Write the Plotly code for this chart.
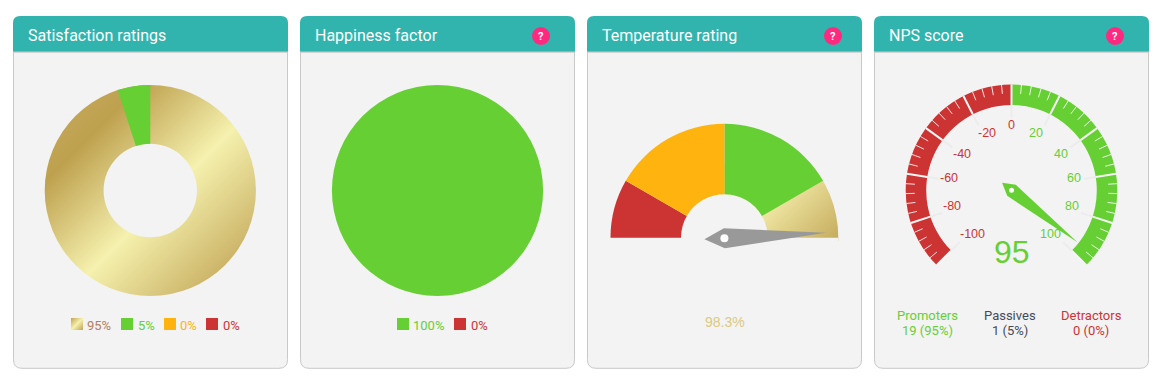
import math
import numpy as np
import plotly.graph_objects as go

W, H = 1156, 379
BG = "#f3f3f3"; GREEN = "#66cf33"; RED = "#cc3333"; ORANGE = "#ffb30f"; TEAL = "#31b4ae"; PINK = "#ff2a80"; EDGE = "#c9c9c9"
GOLD_SCALE = [[0, "#c8ae60"], [0.23, "#bea14f"], [0.55, "#f5f1ae"], [0.88, "#c9b063"], [1, "#c4aa58"]]
SWATCH_SCALE = [[0, "#c4a958"], [0.5, "#f5f1ae"], [1, "#c4a958"]]

panel_titles = ["Satisfaction ratings", "Happiness factor", "Temperature rating", "NPS score"]
panel_left = [13, 300, 587, 874]
help_icon_x = [None, 541, 833, 1115]

satisfaction_labels = ["95%", "5%", "0%", "0%"]
satisfaction_values = [95, 5, 0, 0]
happiness_labels = ["100%", "0%"]
happiness_values = [100, 0]
temperature_zone_arcs = [60, 30, 180, 30, 60]   # green, gold, hidden, red, orange
temperature_value = 98.3
nps_value = 95
nps_major_ticks = [-100, -80, -60, -40, -20, 0, 20, 40, 60, 80, 100]
nps_segments = [100, 66.67, 100]   # promoter side, hidden, detractor side
nps_groups = ["Promoters", "Passives", "Detractors"]
nps_counts = ["19 (95%)", "1 (5%)", "0 (0%)"]
# label offsets from the gauge centre, by absolute tick value
nps_label_dx = {0: 0, 20: 24.5, 40: 49.5, 60: 62.5, 80: 60, 100: 39}
nps_label_dy = {0: -65.3, 20: -57.6, 40: -36.3, 60: -12, 80: 15.4, 100: 43.4}

fig = go.Figure()
shapes, notes = [], []


def dom(cx, cy, r):
    return dict(x=[(cx - r) / W, (cx + r) / W], y=[1 - (cy + r) / H, 1 - (cy - r) / H])


def pie(cx, cy, r, values, colors, hole=0, rotation=0):
    fig.add_trace(go.Pie(values=values, marker=dict(colors=colors, line=dict(width=0)), hole=hole,
                         rotation=rotation, sort=False, direction="clockwise", textinfo="none",
                         hoverinfo="skip", showlegend=False, domain=dom(cx, cy, r)))


def gradient(x0, x1, y0, y1, s0, s1, mask=None, scale=GOLD_SCALE):
    xs = np.arange(x0, x1 + 0.5, 1.0)
    ys = np.arange(y0, y1 + 0.5, 1.0)
    gx, gy = np.meshgrid(xs, ys)
    z = (gx + gy - s0) / (s1 - s0)
    if mask is not None:
        z = np.where(mask(gx, gy), z, np.nan)
    fig.add_trace(go.Heatmap(x=xs, y=ys, z=z, zmin=0, zmax=1, colorscale=scale, showscale=False,
                             hoverinfo="skip", hoverongaps=False, xaxis="x", yaxis="y"))


def text(x, y, s, size, color, anchor="center", family="Roboto"):
    notes.append(dict(x=x, y=y, xref="x", yref="y", text=s, showarrow=False, xanchor=anchor, yanchor="middle",
                      font=dict(family=family, size=size, color=color)))


def line(x0, y0, x1, y1, color, width):
    shapes.append(dict(type="line", x0=x0, y0=y0, x1=x1, y1=y1, xref="x", yref="y",
                       line=dict(color=color, width=width), layer="above"))


def needle(cx, cy, deg, tail, half, tip, color, dot):
    # deg: clockwise from straight up
    a = math.radians(deg)
    ux, uy = math.sin(a), -math.cos(a)
    px, py = -uy, ux
    pts = [(cx - ux * tail, cy - uy * tail), (cx + px * half, cy + py * half),
           (cx + ux * tip, cy + uy * tip), (cx - px * half, cy - py * half)]
    path = "M" + " L".join(f"{x:.2f},{y:.2f}" for x, y in pts) + " Z"
    shapes.append(dict(type="path", path=path, xref="x", yref="y", fillcolor=color, line=dict(width=0), layer="above"))
    shapes.append(dict(type="circle", x0=cx - dot, x1=cx + dot, y0=cy - dot, y1=cy + dot, xref="x", yref="y",
                       fillcolor="white", line=dict(width=0), layer="above"))


# ---- card frames
top, head, bottom, w = 16, 52, 368.8, 275
for left, title, hx in zip(panel_left, panel_titles, help_icon_x):
    r = 9
    right = left + w
    body = (f"M{left+.5},{head} L{right-.5},{head} L{right-.5},{bottom-r} Q{right-.5},{bottom-.5} {right-r},{bottom-.5} "
            f"L{left+r},{bottom-.5} Q{left+.5},{bottom-.5} {left+.5},{bottom-r} Z")
    shapes.append(dict(type="path", path=body, xref="x", yref="y", fillcolor=BG, line=dict(color=EDGE, width=1), layer="below"))
    hd = (f"M{left},{head} L{left},{top+7} Q{left},{top} {left+7},{top} L{right-7},{top} Q{right},{top} {right},{top+7} "
          f"L{right},{head} Z")
    shapes.append(dict(type="path", path=hd, xref="x", yref="y", fillcolor=TEAL, line=dict(width=0), layer="below"))
    shapes.append(dict(type="line", x0=left, x1=right, y0=52, y1=52, xref="x", yref="y",
                       line=dict(color=EDGE, width=1), layer="below"))
    text(left + 12.5, 35, title, 16, "white", "left")
    if hx:
        shapes.append(dict(type="circle", x0=hx - 9, x1=hx + 9, y0=36 - 9, y1=36 + 9, xref="x", yref="y",
                           fillcolor=PINK, line=dict(width=0), layer="below"))
        notes.append(dict(x=hx, y=36, xref="x", yref="y", text="<b>?</b>", showarrow=False,
                          font=dict(family="Roboto", size=11, color="white")))

# ---- satisfaction donut
cx, cy, R, rh = 150.3, 190.5, 105.6, 46.7
gradient(cx - R - 3, cx + R + 3, cy - R - 3, cy + R + 3, 130, 552,
         lambda x, y: (np.hypot(x - cx, y - cy) < R + 3) & (np.hypot(x - cx, y - cy) > rh - 3))
pie(cx, cy, R + 5, [1], [BG], hole=R / (R + 5))
pie(cx, cy, rh, [1], [BG])
pie(cx, cy, R, satisfaction_values, ["rgba(0,0,0,0)", GREEN, ORANGE, RED], hole=rh / R)

sw_x = [71, 121, 164, 206]
lab_x = [85, 135.5, 178, 221]
lab_col = ["#b0805f", "#66cf33", "#ffb30f", "#cc3333"]
gradient(71.5, 82.5, 318.5, 329.5, 390, 412, scale=SWATCH_SCALE)
for i, s in enumerate(satisfaction_labels):
    if i:
        shapes.append(dict(type="rect", x0=sw_x[i], x1=sw_x[i] + 12, y0=318, y1=330, xref="x", yref="y",
                           fillcolor=[None, GREEN, ORANGE, RED][i], line=dict(width=0), layer="below"))
    text(lab_x[i], 325.5, s, 13, lab_col[i], "left")

# ---- happiness pie
pie(437.5, 190.5, 105.6, happiness_values, [GREEN, RED])
for sx, tx, s, c, tc in zip([397, 454], [411, 469], happiness_labels, [GREEN, RED], ["#66cf33", "#cc3333"]):
    shapes.append(dict(type="rect", x0=sx, x1=sx + 12, y0=318, y1=330, xref="x", yref="y",
                       fillcolor=c, line=dict(width=0), layer="below"))
    text(tx, 325.5, s, 13, tc, "left")

# ---- temperature gauge
cx, cy, R, rh = 724.4, 237.7, 113.9, 43.4
gradient(cx - 3, cx + R + 3, cy - R * 0.65, cy + 3, 975, 1075,
         lambda x, y: (np.hypot(x - cx, y - cy) < R + 3) & (np.hypot(x - cx, y - cy) > rh - 3),
         scale=[[0, "#f0e7a4"], [1, "#c6ad5e"]])
pie(cx, cy, R + 5, [1], [BG], hole=R / (R + 5))
pie(cx, cy, rh, [1], [BG])
pie(cx, cy, R, temperature_zone_arcs, [GREEN, "rgba(0,0,0,0)", BG, RED, ORANGE], hole=rh / R)
needle(cx, cy + 0.5, -90 + 180 * temperature_value / 100, 20, 10, 102, "#999999", 4)
text(cx + 1, 322, f"{temperature_value}%", 14, "#dcc97f", family="Liberation Sans")

# ---- NPS gauge
cx, cy, R, rh = 1011.5, 190.3, 105.8, 85.3
DEG_PER_UNIT = 1.35
pie(cx, cy, R, nps_segments, [GREEN, "rgba(0,0,0,0)", RED], hole=rh / R)


def polar(v, r):
    a = math.radians(v * DEG_PER_UNIT)
    return cx + r * math.sin(a), cy - r * math.cos(a)


for v in range(-100, 101, 4):
    if v % 20:
        (a, b), (c, d) = polar(v, R), polar(v, R - 9)
        line(a, b, c, d, "rgba(255,255,255,0.85)", 1)
for v in nps_major_ticks:
    (a, b), (c, d), (e, f) = polar(v, R), polar(v, rh), polar(v, 73)
    line(c, d, e, f, "#ececec", 2)
    line(a, b, c, d, "#f5f5f5", 2)
    sign = 1 if v > 0 else -1
    text(cx + sign * nps_label_dx[abs(v)], cy + nps_label_dy[abs(v)], str(v), 12.5, GREEN if v > 0 else RED,
         family="Liberation Sans")
needle(cx, cy, nps_value * DEG_PER_UNIT, 12, 7, 84, GREEN, 2.5)
text(cx + 0.5, 251.5, str(nps_value), 32, "#66cf33", family="Liberation Sans")
for x, a, b, c in zip([927.7, 1009.7, 1091.3], nps_groups, nps_counts, ["#66cf33", "#444b5c", "#cc3333"]):
    text(x, 315.5, a, 13, c)
    text(x, 330.5, b, 13, c)

fig.update_layout(
    width=W, height=H, margin=dict(l=0, r=0, t=0, b=0), paper_bgcolor="white", plot_bgcolor="rgba(0,0,0,0)",
    xaxis=dict(range=[0, W], visible=False, fixedrange=True),
    yaxis=dict(range=[H, 0], visible=False, fixedrange=True),
    shapes=shapes, annotations=notes, showlegend=False,
)
fig.write_html("out.html", config=dict(displayModeBar=False),
               post_script="document.body.style.margin='0';document.body.style.overflow='hidden';")
